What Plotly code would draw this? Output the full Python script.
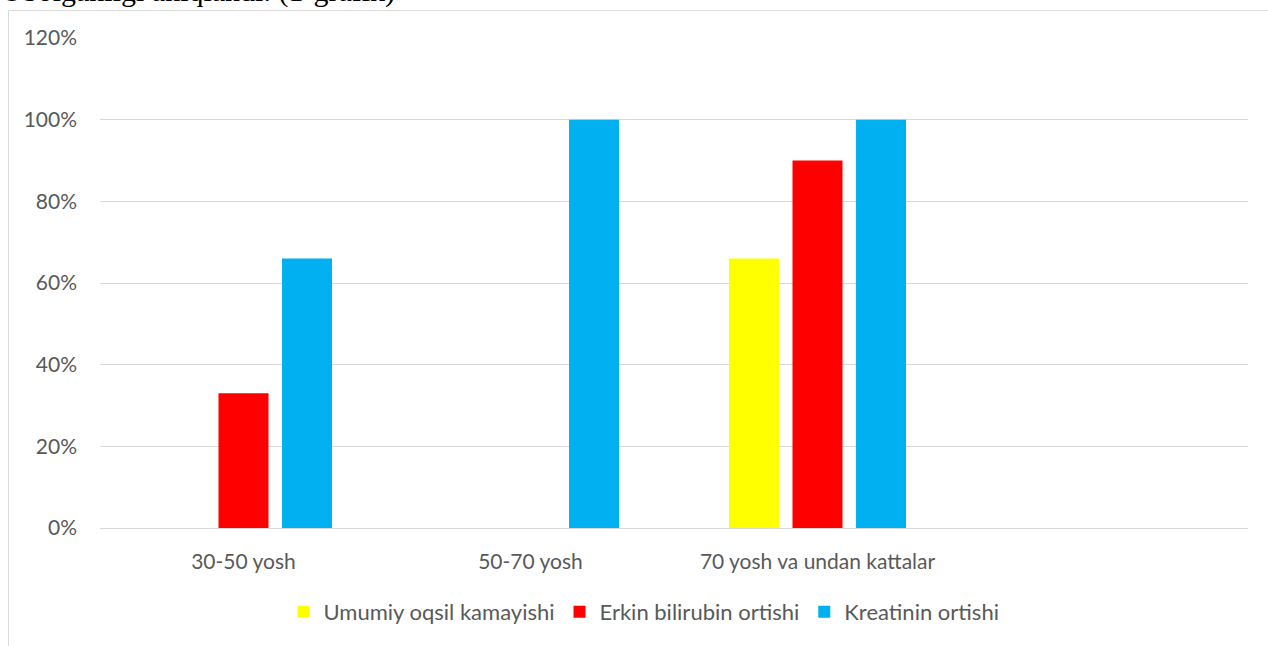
import plotly.graph_objects as go

categories = ["30-50 yosh", "50-70 yosh", "70 yosh va undan kattalar"]
series_names = ["Umumiy oqsil kamayishi", "Erkin bilirubin ortishi", "Kreatinin ortishi"]
umumiy_oqsil = [0, 0, 66]
erkin_bilirubin = [33, 0, 90]
kreatinin = [66, 100, 100]
colors = ["#FFFF00", "#FF0000", "#00B0F0"]
y_ticks = [0, 20, 40, 60, 80, 100, 120]

W, H = 1268, 646
L, R, T, B = 100, 20, 38, 118
pw, ph = W - L - R, H - T - B

def px_x(px):
    return (px - L) / pw

def px_y(py):
    return (H - B - py) / ph

fig = go.Figure()
for name, vals, col in zip(series_names, [umumiy_oqsil, erkin_bilirubin, kreatinin], colors):
    fig.add_trace(go.Bar(x=categories, y=vals, name=name, marker=dict(color=col, line=dict(width=0)),
                         hoverinfo="skip"))

font_fam = "Lato, 'Open Sans', sans-serif"
fig.update_layout(
    width=W, height=H,
    margin=dict(l=L, r=R, t=T, b=B, pad=0),
    paper_bgcolor="white", plot_bgcolor="white",
    barmode="group", bargap=0.336, bargroupgap=0.213,
    font=dict(family=font_fam, size=21, color="#595959"),
    showlegend=True,
    legend=dict(orientation="h", x=px_x(644), xanchor="center", y=px_y(612), yanchor="middle",
                font=dict(size=22, color="#595959"), traceorder="normal",
                itemwidth=30, bgcolor="rgba(0,0,0,0)"),
    xaxis=dict(type="category", range=[-0.5, 3.5], showgrid=False, showline=False, zeroline=False,
               ticks="", ticklabelstandoff=19, tickfont=dict(size=21, color="#595959")),
    yaxis=dict(range=[0, 120], tickvals=y_ticks, ticktext=[f"{v}%" for v in y_ticks],
               showgrid=True, gridcolor="#d9d9d9", gridwidth=1, zeroline=True, zerolinecolor="#d9d9d9",
               zerolinewidth=1, showline=False, ticks="", ticklabelstandoff=22,
               tickfont=dict(size=21, color="#595959")),
    shapes=[dict(type="rect", xref="paper", yref="paper", x0=px_x(8.5), x1=px_x(1300), y0=px_y(700), y1=px_y(10.5),
                 line=dict(color="#d9d9d9", width=1), fillcolor="rgba(0,0,0,0)", layer="below")],
    annotations=[dict(text="Ubolganligi aniqlandi. (1-grafik)", xref="paper", yref="paper",
                      x=px_x(-1), y=px_y(10), xanchor="left", yanchor="bottom", showarrow=False,
                      font=dict(family="'Liberation Serif', 'Times New Roman', serif", size=30, color="black"))],
)

fig.write_html("out.html", post_script="document.body.style.margin='0px';",
               config={"displayModeBar": False})
